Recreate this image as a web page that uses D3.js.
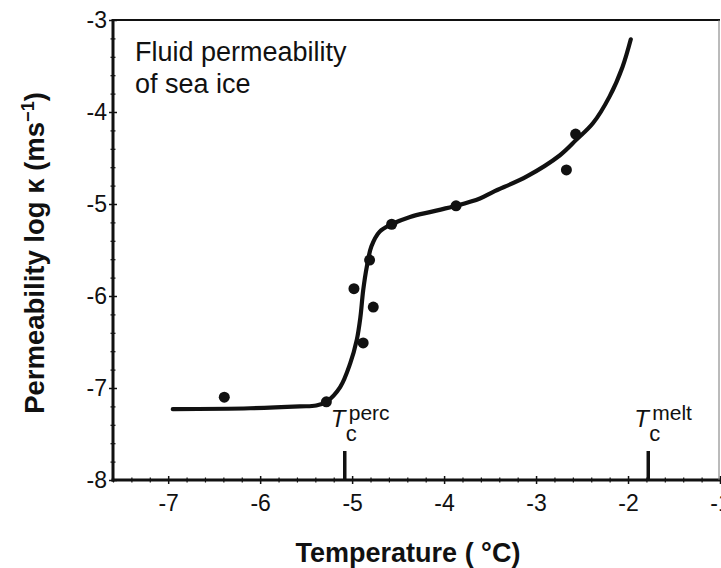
<!DOCTYPE html>
<html lang="en">
<head>
    <meta charset="UTF-8">
    <title>Fluid permeability of sea ice</title>
    <style>
        body { margin: 0; background: #fff; }
        svg { display: block; }
    </style>
</head>
<body>
<div id="chart"></div>

<script src="https://d3js.org/d3.v7.min.js"></script>

<script>
    // Measured points (temperature in degC, log10 permeability)
    const obsTemp = [-6.39, -5.28, -4.98, -4.88, -4.77, -4.81, -4.57, -3.87, -2.67, -2.57];
    const obsLogK = [-7.10, -7.15, -5.92, -6.51, -6.12, -5.61, -5.22, -5.02, -4.63, -4.24];

    // Fitted curve
    const fitTemp = [-6.95, -6.11, -5.57, -5.39, -5.28, -5.13, -5.02, -4.95, -4.91, -4.88, -4.84, -4.79,
                     -4.70, -4.57, -4.37, -4.12, -3.87, -3.61, -3.47, -3.10, -2.74, -2.56, -2.38, -2.20, -2.06, -1.97];
    const fitLogK = [-7.23, -7.22, -7.20, -7.19, -7.15, -6.99, -6.73, -6.48, -6.23, -5.94, -5.68, -5.46,
                     -5.30, -5.22, -5.14, -5.08, -5.02, -4.94, -4.87, -4.70, -4.47, -4.30, -4.12, -3.83, -3.51, -3.21];

    // Critical temperatures
    const markNames = ["perc", "melt"];
    const markTemp = [-5.08, -1.78];

    // Tick values
    const xTicks = [-7, -6, -5, -4, -3, -2, -1];
    const yTicks = [-8, -7, -6, -5, -4, -3];

    const width = 721, height = 568;
    const svg = d3.select("#chart").append("svg")
        .attr("width", width)
        .attr("height", height);

    const x = d3.scaleLinear().domain([-7.6, -1]).range([113, 720]);
    const y = d3.scaleLinear().domain([-8, -3]).range([480, 20]);

    const ink = "#111";
    const font = "'Liberation Sans', Arial, Helvetica, sans-serif";
    const hyphen = d => String(d);   // plain hyphen like the original

    // minor ticks every 0.2
    const xMinor = d3.range(-7.6, -0.99, 0.2).map(v => +v.toFixed(1)).filter(v => !xTicks.includes(v));
    const yMinor = d3.range(-8, -2.99, 0.2).map(v => +v.toFixed(1)).filter(v => !yTicks.includes(v));

    // bottom axis
    const gx = svg.append("g")
        .attr("transform", "translate(0," + y(-8) + ")")
        .call(d3.axisBottom(x).tickValues(xTicks).tickSize(4).tickPadding(11).tickFormat(hyphen));
    gx.select(".domain").remove();
    gx.selectAll(".tick line").attr("y1", -4).attr("stroke", ink).attr("stroke-width", 1.5);
    gx.selectAll(".tick text").attr("font-size", 23).attr("font-family", font).attr("fill", ink);

    const gxm = svg.append("g")
        .attr("transform", "translate(0," + y(-8) + ")")
        .call(d3.axisBottom(x).tickValues(xMinor).tickSize(2.5).tickFormat(""));
    gxm.select(".domain").remove();
    gxm.selectAll(".tick line").attr("y1", -2.5).attr("stroke", ink).attr("stroke-width", 1.2);

    // left axis
    const gy = svg.append("g")
        .attr("transform", "translate(" + x(-7.6) + ",0)")
        .call(d3.axisLeft(y).tickValues(yTicks).tickSize(4).tickPadding(2).tickFormat(hyphen));
    gy.select(".domain").remove();
    gy.selectAll(".tick line").attr("x1", 4).attr("stroke", ink).attr("stroke-width", 1.5);
    gy.selectAll(".tick text").attr("font-size", 23).attr("font-family", font).attr("fill", ink);

    const gym = svg.append("g")
        .attr("transform", "translate(" + x(-7.6) + ",0)")
        .call(d3.axisLeft(y).tickValues(yMinor).tickSize(2.5).tickFormat(""));
    gym.select(".domain").remove();
    gym.selectAll(".tick line").attr("x1", 2.5).attr("stroke", ink).attr("stroke-width", 1.2);

    // frame
    svg.append("line").attr("x1", x(-7.6)).attr("x2", x(-7.6)).attr("y1", y(-3) - 1).attr("y2", y(-8) + 1.5)
        .attr("stroke", ink).attr("stroke-width", 3);
    svg.append("line").attr("x1", x(-7.6) - 1.5).attr("x2", x(-1)).attr("y1", y(-8)).attr("y2", y(-8))
        .attr("stroke", ink).attr("stroke-width", 3);
    svg.append("line").attr("x1", x(-7.6)).attr("x2", x(-1)).attr("y1", y(-3)).attr("y2", y(-3))
        .attr("stroke", ink).attr("stroke-width", 2.2);
    svg.append("line").attr("x1", x(-1) - 1).attr("x2", x(-1) - 1).attr("y1", y(-3)).attr("y2", y(-8))
        .attr("stroke", "#777").attr("stroke-width", 1);

    // fitted curve
    const fit = fitTemp.map((t, i) => [t, fitLogK[i]]);
    svg.append("path")
        .datum(fit)
        .attr("fill", "none")
        .attr("stroke", ink)
        .attr("stroke-width", 4.2)
        .attr("stroke-linecap", "round")
        .attr("d", d3.line().x(d => x(d[0])).y(d => y(d[1])).curve(d3.curveCatmullRom));

    // data points
    svg.append("g").selectAll("circle")
        .data(obsTemp.map((t, i) => [t, obsLogK[i]]))
        .enter()
        .append("circle")
        .attr("cx", d => x(d[0]))
        .attr("cy", d => y(d[1]))
        .attr("r", 5.5)
        .attr("fill", ink);

    // critical temperature markers
    markTemp.forEach((t, i) => {
        const px = x(t);
        svg.append("line").attr("x1", px).attr("x2", px).attr("y1", y(-8)).attr("y2", y(-8) - 29)
            .attr("stroke", ink).attr("stroke-width", 3.5);
        svg.append("text").attr("x", px - 14).attr("y", 427)
            .attr("font-family", font).attr("font-style", "italic").attr("font-size", 24)
            .attr("fill", ink).text("T");
        svg.append("text").attr("x", px + 1).attr("y", 441)
            .attr("font-family", font).attr("font-size", 22)
            .attr("fill", ink).text("c");
        svg.append("text").attr("x", px + 4).attr("y", 420)
            .attr("font-family", font).attr("font-size", 21)
            .attr("fill", ink).text(markNames[i]);
    });

    // title inside the plot
    svg.append("text").attr("x", 135).attr("y", 61)
        .attr("font-family", font).attr("font-size", 27)
        .attr("fill", ink).text("Fluid permeability");
    svg.append("text").attr("x", 135).attr("y", 93)
        .attr("font-family", font).attr("font-size", 27)
        .attr("fill", ink).text("of sea ice");

    // axis titles
    svg.append("text")
        .attr("x", 408).attr("y", 562)
        .attr("text-anchor", "middle")
        .attr("font-family", font).attr("font-weight", "bold").attr("font-size", 27)
        .attr("fill", ink)
        .text("Temperature ( °C)");

    const yl = svg.append("text")
        .attr("transform", "translate(44,253) rotate(-90)")
        .attr("text-anchor", "middle")
        .attr("font-family", font).attr("font-weight", "bold").attr("font-size", 27.5)
        .attr("fill", ink);
    yl.append("tspan").text("Permeability log κ (ms");
    yl.append("tspan").attr("dy", -10).attr("font-size", 18).text("−1");
    yl.append("tspan").attr("dy", 10).text(")");
</script>

</body>
</html>
